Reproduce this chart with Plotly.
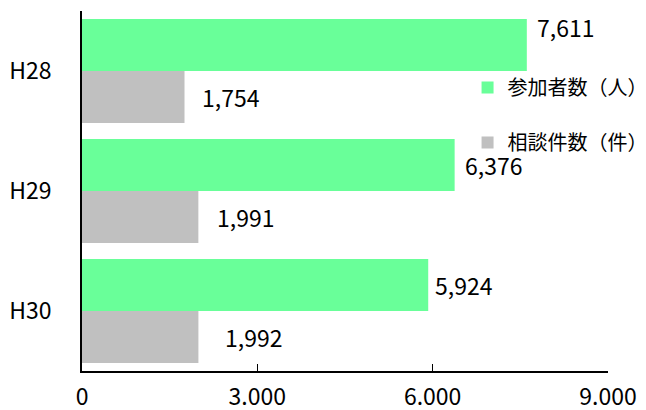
import plotly.graph_objects as go

categories = ["H28", "H29", "H30"]
participants = [7611, 6376, 5924]
consultations = [1754, 1991, 1992]
series_names = ["参加者数（人）", "相談件数（件）"]
tick_values = [0, 3000, 6000, 9000]

GREEN = "#69FF99"
GRAY = "#C0C0C0"
FONT = "Noto Sans CJK JP"

# label offsets (pixels) per series/category: (dx, dy)
label_offsets = {
    0: [(8, 18), (8, 0), (5, 0)],
    1: [(15, 0), (17, 0), (25, 0)],
}

fig = go.Figure()
fig.add_trace(go.Bar(y=categories, x=participants, orientation="h", name=series_names[0],
                     marker=dict(color=GREEN, line=dict(width=0)), legendgroup="a"))
fig.add_trace(go.Bar(y=categories, x=consultations, orientation="h", name=series_names[1],
                     marker=dict(color=GRAY, line=dict(width=0)), legendgroup="b"))

annotations = []
for si, vals in enumerate([participants, consultations]):
    base_shift = 26 if si == 0 else -26
    for ci, (cat, v) in enumerate(zip(categories, vals)):
        dx, dy = label_offsets[si][ci]
        annotations.append(dict(x=v, y=cat, xref="x", yref="y", text=f"{v:,}",
                                showarrow=False, xanchor="left", yanchor="middle",
                                xshift=dx, yshift=base_shift + dy,
                                font=dict(family=FONT, size=23, color="#000")))

# page body has an 8px margin, so the figure is drawn 8px smaller and offset
fig.update_layout(
    width=638, height=402,
    margin=dict(l=74, r=38, t=3, b=39, autoexpand=False),
    paper_bgcolor="white", plot_bgcolor="white",
    barmode="group", bargap=0.133, bargroupgap=0,
    separators=",.",
    font=dict(family=FONT, size=23, color="#000"),
    showlegend=True,
    legend=dict(x=0.733, y=0.842, xanchor="left", yanchor="top",
                font=dict(family=FONT, size=20, color="#000"),
                traceorder="grouped", tracegroupgap=26,
                bgcolor="rgba(0,0,0,0)", itemclick=False),
    annotations=annotations,
)
fig.update_xaxes(range=[0, 9000], tickvals=tick_values, tickformat=",d",
                 ticks="inside", ticklen=7, tickcolor="#000", tickwidth=1,
                 showline=True, linecolor="#000", linewidth=1.5,
                 showgrid=False, zeroline=False, ticklabelstandoff=5,
                 automargin=False, tickfont=dict(family=FONT, size=23))
fig.update_yaxes(autorange="reversed", showline=True, linecolor="#000", linewidth=1.5,
                 showgrid=False, ticks="", ticklabelstandoff=24, automargin=False,
                 tickfont=dict(family=FONT, size=23))

fig.write_html("out.html")
